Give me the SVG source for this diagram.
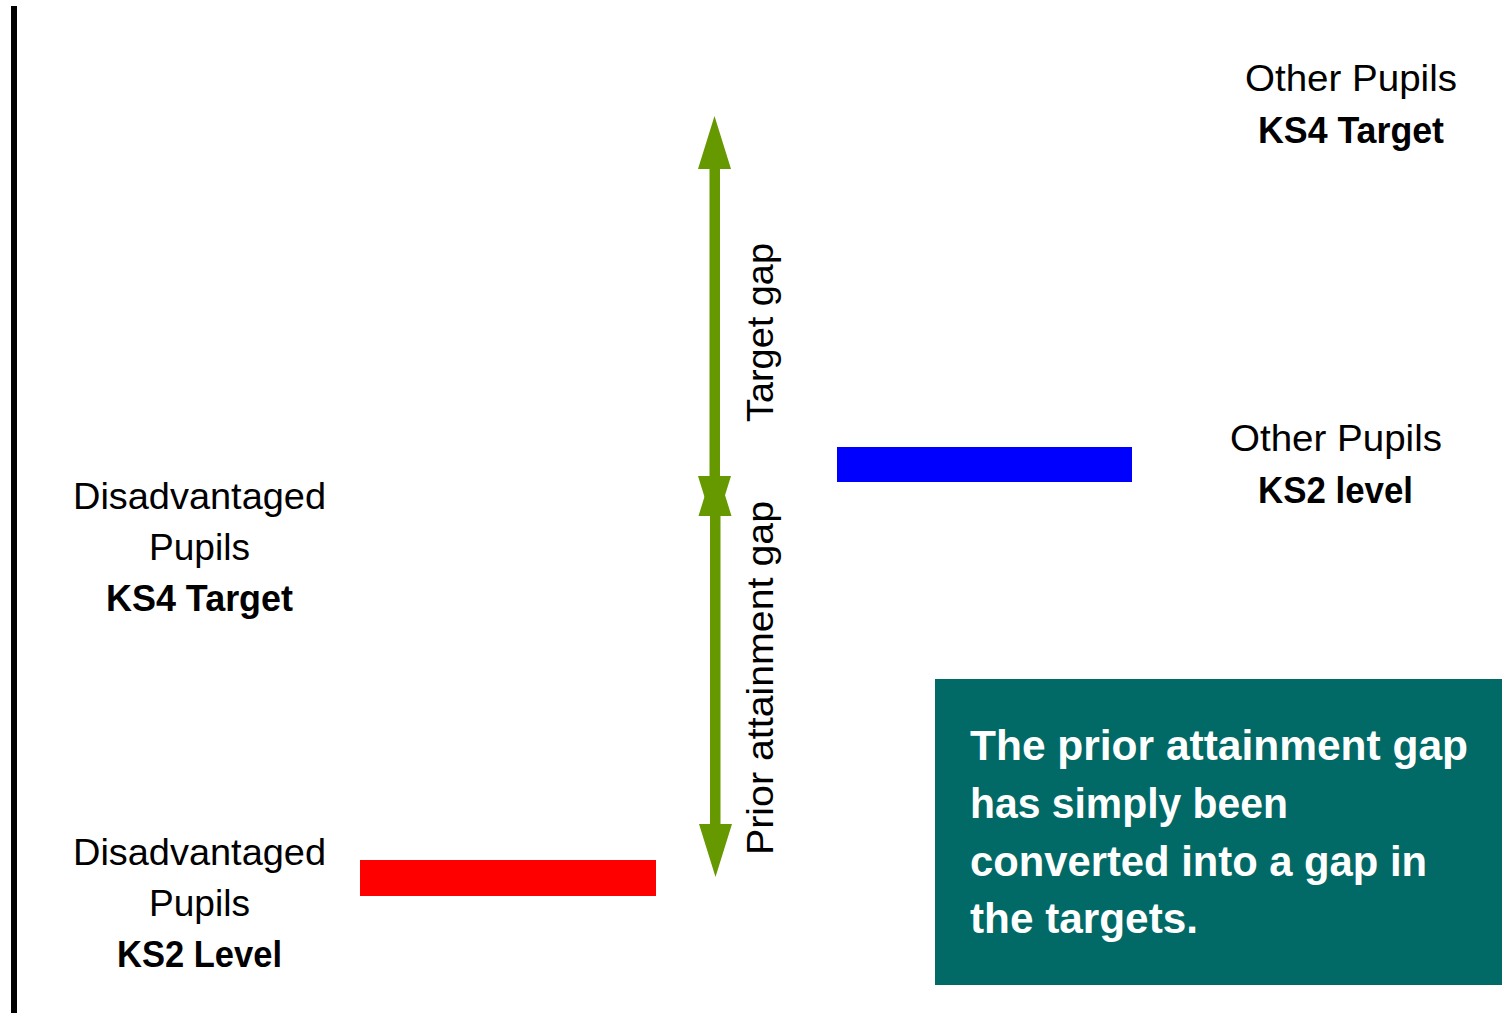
<svg xmlns="http://www.w3.org/2000/svg" width="1502" height="1013" viewBox="0 0 1502 1013">
  <style>
    .lbl { font-family: "Liberation Sans", Arial, sans-serif; font-size: 37px; fill: #000; text-anchor: middle; }
    .b { font-weight: bold; }
    .box { font-family: "Liberation Sans", Arial, sans-serif; font-size: 42px; font-weight: bold; fill: #fff; }
    .arrow { fill: #669900; }
  </style>
  <rect x="0" y="0" width="1502" height="1013" fill="#ffffff"/>
  <rect id="axis" x="11" y="6" width="6" height="1007" fill="#000"/>

  <g id="connectors">
    <!-- Target gap arrow -->
    <polygon class="arrow" points="714.5,116 731,169 720,169 720,476 731,476 714.5,529 698,476 709.5,476 709.5,169 698,169"/>
    <!-- Prior attainment gap arrow -->
    <polygon class="arrow" points="715,463 731.5,516 720.5,516 720.5,824 732,824 715.5,877 699,824 710,824 710,516 698.5,516"/>
  </g>

  <g id="target-gap-label">
    <text class="lbl" transform="translate(773,332.5) rotate(-90)" textLength="179" lengthAdjust="spacingAndGlyphs">Target gap</text>
  </g>
  <g id="prior-gap-label">
    <text class="lbl" transform="translate(773,678) rotate(-90)" textLength="354" lengthAdjust="spacingAndGlyphs">Prior attainment gap</text>
  </g>

  <g id="other-ks4">
    <text class="lbl" x="1351" y="91" textLength="212" lengthAdjust="spacingAndGlyphs">Other Pupils</text>
    <text class="lbl b" x="1351" y="143" textLength="186" lengthAdjust="spacingAndGlyphs">KS4 Target</text>
  </g>

  <g id="other-ks2">
    <rect x="837" y="447" width="295" height="35" fill="#0000ff"/>
    <text class="lbl" x="1336" y="451" textLength="212" lengthAdjust="spacingAndGlyphs">Other Pupils</text>
    <text class="lbl b" x="1335.5" y="503" textLength="155" lengthAdjust="spacingAndGlyphs">KS2 level</text>
  </g>

  <g id="dis-ks4">
    <text class="lbl" x="199.5" y="509" textLength="253" lengthAdjust="spacingAndGlyphs">Disadvantaged</text>
    <text class="lbl" x="199.5" y="560" textLength="101" lengthAdjust="spacingAndGlyphs">Pupils</text>
    <text class="lbl b" x="199.5" y="611" textLength="187" lengthAdjust="spacingAndGlyphs">KS4 Target</text>
  </g>

  <g id="dis-ks2">
    <rect x="360" y="860" width="296" height="36" fill="#ff0000"/>
    <text class="lbl" x="199.5" y="865" textLength="253" lengthAdjust="spacingAndGlyphs">Disadvantaged</text>
    <text class="lbl" x="199.5" y="916" textLength="101" lengthAdjust="spacingAndGlyphs">Pupils</text>
    <text class="lbl b" x="199.5" y="967" textLength="165" lengthAdjust="spacingAndGlyphs">KS2 Level</text>
  </g>

  <g id="note">
    <rect x="935" y="679" width="567" height="306" fill="#016966"/>
    <text class="box" x="970" y="760" textLength="498" lengthAdjust="spacingAndGlyphs">The prior attainment gap</text>
    <text class="box" x="970" y="818" textLength="318" lengthAdjust="spacingAndGlyphs">has simply been</text>
    <text class="box" x="970" y="876" textLength="457" lengthAdjust="spacingAndGlyphs">converted into a gap in</text>
    <text class="box" x="970" y="933" textLength="228" lengthAdjust="spacingAndGlyphs">the targets.</text>
  </g>
</svg>
